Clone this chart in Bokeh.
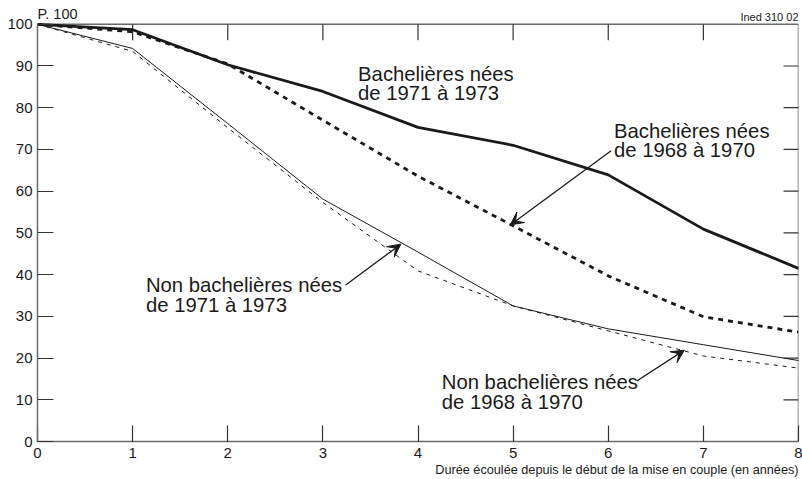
from bokeh.plotting import figure
from bokeh.models import Range1d, LinearAxis, FixedTicker, Label, Arrow, VeeHead, Title
from bokeh.embed import file_html
from bokeh.resources import INLINE

years = [0, 1, 2, 3, 4, 5, 6, 7, 8]
bach_71_73 = [100, 98.7, 90.3, 83.9, 75.3, 71.0, 63.9, 50.9, 41.5]
bach_68_70 = [100, 98.2, 90.5, 77.0, 63.6, 51.7, 39.7, 29.9, 26.2]
nonbach_71_73 = [100, 94.2, 76.2, 58.1, 45.4, 32.5, 27.0, 23.2, 19.4]
nonbach_68_70 = [100, 93.5, 75.2, 57.3, 40.9, 32.5, 26.5, 20.5, 17.6]

x_ticks = [0, 1, 2, 3, 4, 5, 6, 7, 8]
y_ticks = [0, 10, 20, 30, 40, 50, 60, 70, 80, 90, 100]

FONT = "Liberation Sans"
INK = "#1a1a1a"
AXIS = "#6b6b6b"
TICK = "#333333"

W, H = 802, 479
BL, BR, BT, BB = 37, 4, 5, 38
Y_TOP = 104.5
frame_h = H - BT - BB
frame_w = W - BL - BR

p = figure(width=W, height=H, output_backend="svg", toolbar_location=None,
           x_range=Range1d(0, 8), y_range=Range1d(0, Y_TOP),
           min_border_left=BL, min_border_right=BR, min_border_top=BT, min_border_bottom=BB,
           x_axis_location=None, y_axis_location=None)
p.grid.visible = False
p.outline_line_color = None
p.background_fill_color = "white"
p.border_fill_color = "white"

def make_axis(ticks, bounds):
    ax = LinearAxis(ticker=FixedTicker(ticks=ticks), bounds=bounds)
    ax.axis_line_color = AXIS
    ax.axis_line_width = 1.5
    ax.major_tick_line_color = TICK
    ax.major_tick_line_width = 1.2
    ax.major_tick_in = 16
    ax.major_tick_out = 0
    ax.minor_tick_line_color = None
    ax.major_label_text_font = FONT
    ax.major_label_text_font_size = "15px"
    ax.major_label_text_color = INK
    ax.major_label_standoff = 5
    return ax

bottom = make_axis(x_ticks, (x_ticks[0], x_ticks[-1]))
bottom.major_label_standoff = 6
p.add_layout(bottom, "below")
p.add_layout(make_axis(y_ticks, (y_ticks[0], y_ticks[-1])), "left")

# top and right edges of the box with inward ticks
x_lo, x_hi = x_ticks[0], x_ticks[-1]
y_lo, y_hi = y_ticks[0], y_ticks[-1]
p.line([x_lo, x_hi, x_hi], [y_hi, y_hi, y_lo], line_color=AXIS, line_width=1.5)

tick_len_y = 16 * Y_TOP / frame_h
tick_len_x = 15 * (x_hi - x_lo) / frame_w
inner_x = x_ticks[1:-1]
inner_y = y_ticks[1:-1]
p.segment(x0=inner_x, y0=[y_hi] * len(inner_x), x1=inner_x, y1=[y_hi - tick_len_y] * len(inner_x),
          line_color=TICK, line_width=1.2)
p.segment(x0=[x_hi] * len(inner_y), y0=inner_y, x1=[x_hi - tick_len_x] * len(inner_y), y1=inner_y,
          line_color=TICK, line_width=1.2)

p.add_layout(Title(text="Durée écoulée depuis le début de la mise en couple (en années)",
                   align="right", text_font=FONT, text_font_size="12.7px",
                   text_font_style="normal", text_color=INK, standoff=0, offset=0), "below")

p.line(years, bach_71_73, line_color=INK, line_width=2.8)
p.line(years, bach_68_70, line_color=INK, line_width=2.8, line_dash="5 5")
p.line(years, nonbach_71_73, line_color=INK, line_width=1)
p.line(years, nonbach_68_70, line_color=INK, line_width=1, line_dash="4 5")

def lab(x, y, t, size="20.3px", align="left", baseline="middle"):
    p.add_layout(Label(x=x, y=y, text=t, text_font=FONT, text_font_size=size,
                       text_color=INK, text_align=align, text_baseline=baseline))

lab(3.37, 88.2, "Bachelières nées")
lab(3.37, 83.6, "de 1971 à 1973")
lab(6.06, 74.5, "Bachelières nées")
lab(6.06, 69.8, "de 1968 à 1970")
lab(1.14, 37.5, "Non bachelières nées")
lab(1.14, 32.8, "de 1971 à 1973")
lab(4.25, 14.2, "Non bachelières nées")
lab(4.25, 9.4, "de 1968 à 1970")

lab(0.0, 102.5, "P. 100", size="14.5px")
lab(8.0, 101.7, "Ined 310 02", size="11px", align="right")

def arrow(x0, y0, x1, y1):
    p.add_layout(Arrow(x_start=x0, y_start=y0, x_end=x1, y_end=y1,
                       line_color=INK, line_width=1.3,
                       end=VeeHead(size=13, fill_color=INK, line_color=INK, line_width=1)))

arrow(6.03, 69.7, 4.97, 51.9)
arrow(3.24, 37.5, 3.82, 47.3)
arrow(6.30, 14.5, 6.80, 21.9)

open("out.html", "w").write(file_html(p, INLINE))
